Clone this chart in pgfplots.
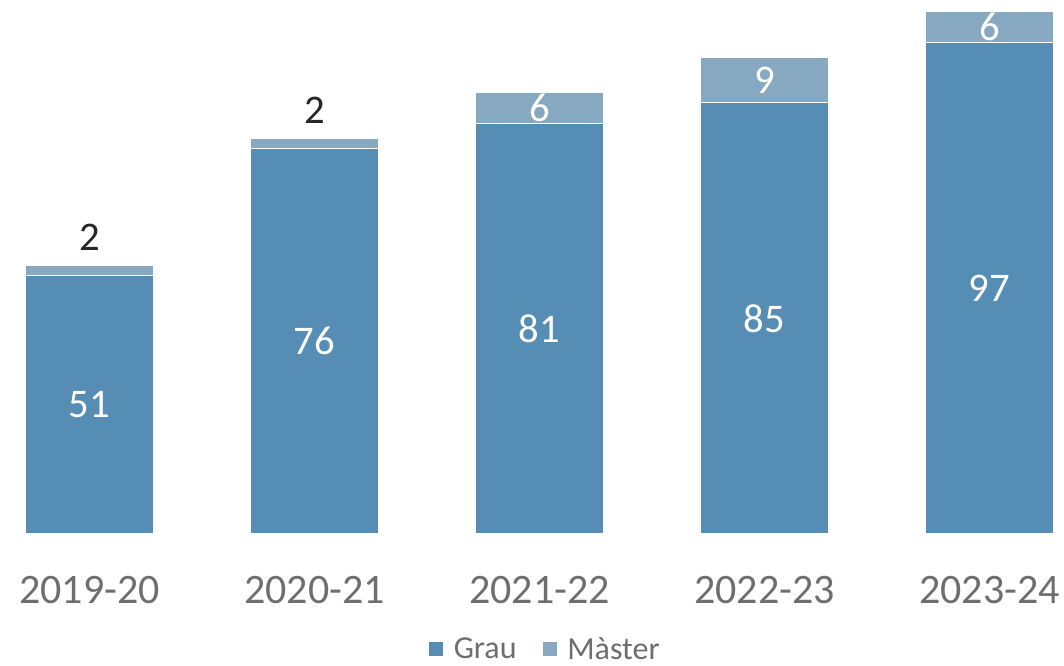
\documentclass[border=0pt]{standalone}
\usepackage{pgfplots}
\pgfplotsset{compat=1.18}
\usepackage{pgfplotstable}
\usepackage{fontspec}
\setmainfont{Carlito}
\definecolor{grau}{RGB}{85,141,181}
\definecolor{master}{RGB}{134,168,192}
\definecolor{txtgray}{RGB}{110,110,110}
\definecolor{dark}{RGB}{38,38,38}
\pgfplotstableread{
x grau master
0 51 2
1 76 2
2 81 6
3 85 9
4 97 6
}\data
\pgfplotstableread{
x y label
0 25.5 51
1 38 76
2 40.5 81
3 42.5 85
4 48.5 97
2 84 6
3 89.5 9
4 100 6
}\inlabels
\pgfplotstableread{
x y label
0 53 2
1 78 2
}\toplabels
\begin{document}
\begin{tikzpicture}
\useasboundingbox (0,-99pt) rectangle (798pt,400.5pt);
\pgfplotsset{base/.style={
  at={(0,0)}, anchor=south west,
  scale only axis, width=798pt, height=400.5pt,
  xmin=-0.398, xmax=4.331, ymin=0, ymax=105.3,
  clip=false,
}}
\begin{axis}[base,
  ybar stacked, bar width=0.573,
  axis line style={draw=none},
  ytick=\empty,
  xtick={0,1,2,3,4}, major tick length=0pt,
  xticklabels={2019-20,2020-21,2021-22,2022-23,2023-24},
  xticklabel style={font=\fontsize{31.5}{36}\selectfont, text=txtgray, yshift=-28pt},
  legend style={at={(0.5,-86.5pt)}, anchor=center, xshift=10pt, legend columns=2, draw=none,
    font=\fontsize{24}{27}\selectfont, text=txtgray,
    /tikz/every even column/.append style={column sep=17pt}},
  legend image code/.code={\fill[#1] (0pt,-5.6pt) rectangle (11.25pt,5.6pt);},
]
\addplot[fill=grau, draw=white, line width=0.8pt] table[x=x, y=grau] {\data};
\addlegendentry{\hspace{5pt}Grau}
\addplot[fill=master, draw=white, line width=0.8pt] table[x=x, y=master] {\data};
\addlegendentry{\hspace{5pt}Màster}
\end{axis}
\begin{axis}[base, hide axis]
\addplot[only marks, mark=none, point meta=explicit symbolic,
  nodes near coords, nodes near coords align=center,
  every node near coord/.append style={font=\fontsize{30.5}{34}\selectfont, text=white, anchor=center}]
  table[x=x, y=y, meta=label] {\inlabels};
\addplot[only marks, mark=none, point meta=explicit symbolic,
  nodes near coords,
  every node near coord/.append style={font=\fontsize{30.5}{34}\selectfont, text=dark, anchor=center, yshift=21pt}]
  table[x=x, y=y, meta=label] {\toplabels};
\end{axis}
\end{tikzpicture}
\end{document}
